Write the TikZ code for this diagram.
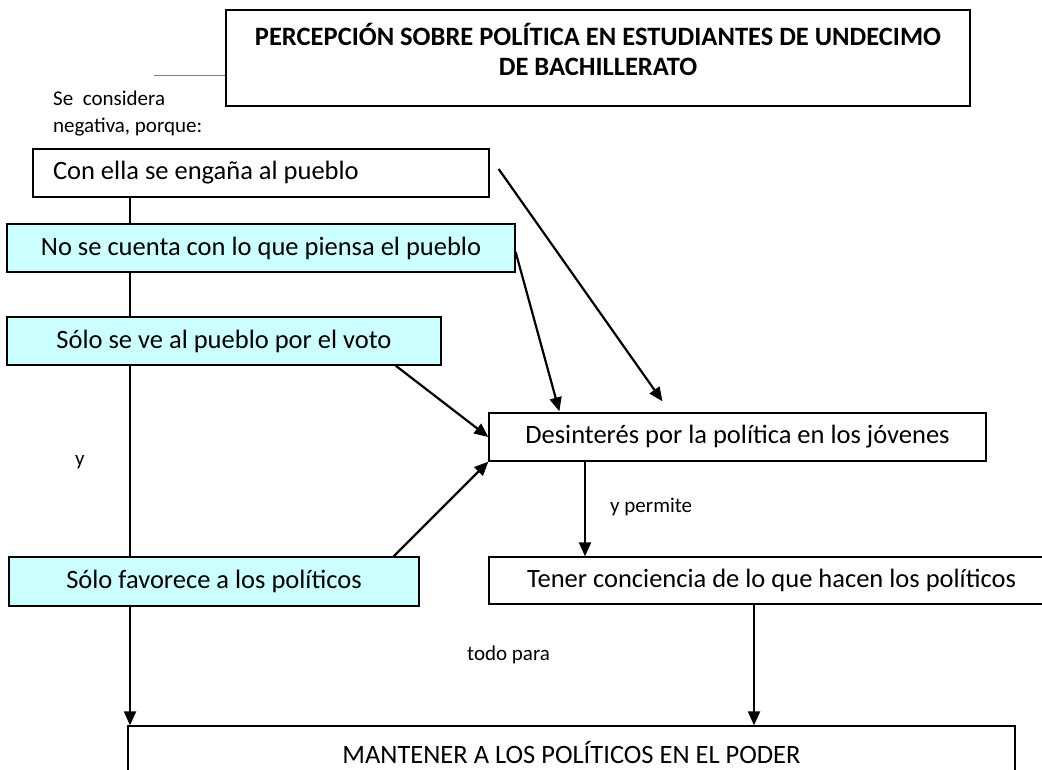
\documentclass[tikz,border=0pt]{standalone}
\usepackage{fontspec}
\setmainfont{Carlito}
\usetikzlibrary{arrows.meta,calc,positioning}
\definecolor{cielo}{HTML}{CCFFFF}

\begin{document}
\begin{tikzpicture}[x=1pt,y=-1pt,
  cajabox/.style={draw,line width=1.3pt,inner sep=0pt,font=\fontsize{26.5}{30}\selectfont},
  celeste/.style={cajabox,fill=cielo},
  linea/.style={line width=2.2pt},
  flecha/.style={line width=2.2pt,-{Triangle[length=14pt,width=12pt]}},
  nota/.style={font=\fontsize{21}{27}\selectfont,anchor=west,inner sep=0pt,align=left}]
\useasboundingbox (0,0) rectangle (1042,770);
\clip (0,0) rectangle (1042,770);
\fill[white] (0,0) rectangle (1042,770);
\node[cajabox,line width=2pt,font=\bfseries\fontsize{26.5}{30}\selectfont,align=center,minimum width=744pt,minimum height=96pt] (titulo) at (598,58) {PERCEPCIÓN SOBRE POLÍTICA EN ESTUDIANTES DE UNDECIMO\\DE BACHILLERATO\rule[-18pt]{0pt}{18pt}};
\coordinate (cola) at (154,75);
\draw[gray,line width=0.8pt] (cola) -- (cola -| titulo.west);
\node[nota] (considera) at (53,114) {Se\ \ considera\\negativa, porque:};
\node[cajabox,text width=416pt,align=flush left,inner xsep=20pt,minimum height=48pt] (engana) at (261,173) {Con ella se engaña al pueblo};
\node[celeste,minimum width=508pt,minimum height=48pt] (cuenta) at (261,248) {No se cuenta con lo que piensa el pueblo};
\node[celeste,minimum width=434pt,minimum height=48pt] (voto) at (224,341) {Sólo se ve al pueblo por el voto};
\node[celeste,minimum width=410pt,minimum height=49pt] (favorece) at (214,581.5) {Sólo favorece a los políticos};
\node[cajabox,fill=white,minimum width=497pt,minimum height=48pt] (desinteres) at (737.5,437) {Desinterés por la política en los jóvenes};
\node[cajabox,fill=white,minimum width=565pt,minimum height=47pt] (conciencia) at (771.5,580.5) {Tener conciencia de lo que hacen los políticos};
\node[cajabox,fill=white,minimum width=887pt,minimum height=56pt,text height=18pt,text depth=0pt] (poder) at (571.5,754) {MANTENER A LOS POLÍTICOS EN EL PODER};
\node[nota] (ylabel) at (75,462) {y};
\node[nota] (permite) at (610,507) {y permite};
\node[nota] (todo) at (467,655) {todo para};
\coordinate (eje) at (130,0);
\foreach \a/\b in {engana/cuenta,cuenta/voto,voto/favorece} {\draw[linea] (\a.south -| eje) -- (\b.north -| eje);}
\draw[flecha] (favorece.south -| eje) -- (poder.north -| eje);
\draw[flecha] ($(engana.east)+(9,-4)$) -- ($(desinteres.north)+(-75,-11)$);
\draw[flecha] ($(cuenta.east)+(0,4)$) -- ($(desinteres.north west)+(71,-1)$);
\draw[flecha] ($(voto.south east)+(-46,0)$) -- (desinteres.west);
\draw[flecha] ($(favorece.north east)+(-26,0)$) -- (desinteres.south west);
\coordinate (bajada) at (585,0);
\draw[flecha] (desinteres.south -| bajada) -- (conciencia.north -| bajada);
\coordinate (cierre) at (754,0);
\draw[flecha] (conciencia.south -| cierre) -- (poder.north -| cierre);
\end{tikzpicture}
\end{document}
